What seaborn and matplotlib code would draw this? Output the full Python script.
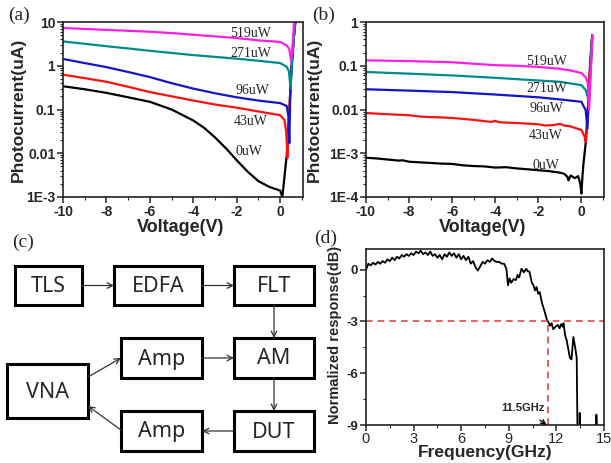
import numpy as np
import pandas as pd
import matplotlib
matplotlib.use("Agg")
import matplotlib.pyplot as plt
import seaborn as sns
from matplotlib.patches import Rectangle
from matplotlib.ticker import FixedLocator, MultipleLocator, LogLocator, NullFormatter

sns.set_style("ticks")
plt.rcParams['font.family'] = ['Liberation Sans', 'DejaVu Sans']
plt.rcParams['axes.unicode_minus'] = False
plt.rcParams['axes.linewidth'] = 1.2
plt.rcParams['axes.edgecolor'] = '#222222'

# ---------------- data ----------------
powers = ['0uW', '43uW', '96uW', '271uW', '519uW']
colors = {'0uW': '#000000', '43uW': '#ff1010', '96uW': '#1414c8',
          '271uW': '#008b8b', '519uW': '#ff1ee6'}

# panel (a)
a_v_0 = [-10, -9, -8, -7, -6, -5, -4, -3.5, -3, -2.5, -2, -1.5, -1, -0.5, 0, 0.1, 0.2, 0.3, 0.4, 0.5, 0.6, 0.7]
a_i_0 = [0.34, 0.29, 0.24, 0.19, 0.15, 0.10, 0.056, 0.038, 0.023, 0.013, 0.0069, 0.0038, 0.0023, 0.0017,
         0.0014, 0.001, 0.003, 0.009, 0.06, 0.6, 3, 12]
a_v_43 = [-10, -9, -8, -7, -6, -5, -4, -3, -2, -1, 0, 0.2, 0.28, 0.33, 0.4, 0.5, 0.6, 0.7]
a_i_43 = [0.625, 0.52, 0.43, 0.33, 0.25, 0.2, 0.16, 0.13, 0.11, 0.09, 0.074, 0.057, 0.03, 0.0078, 0.05, 0.6, 3, 12]
a_v_96 = [-10, -9, -8, -7, -6, -5, -4, -3, -2, -1, 0, 0.3, 0.38, 0.42, 0.47, 0.55, 0.65, 0.72]
a_i_96 = [1.43, 1.15, 0.93, 0.72, 0.55, 0.40, 0.30, 0.235, 0.19, 0.16, 0.14, 0.12, 0.07, 0.017, 0.3, 1.5, 6, 12]
a_v_271 = [-10, -8, -6, -4, -2, -1, 0, 0.3, 0.4, 0.48, 0.55, 0.65, 0.72]
a_i_271 = [3.6, 2.8, 2.2, 1.75, 1.45, 1.3, 1.15, 0.95, 0.75, 0.3, 1.3, 6, 12]
a_v_519 = [-10, -8, -6, -4.6, -4, -2, -1, 0, 0.3, 0.42, 0.5, 0.57, 0.65]
a_i_519 = [7.3, 6.6, 6.0, 5.4, 5.1, 4.3, 3.8, 3.5, 2.9, 2.4, 1.3, 3.0, 12]

# panel (b)
b_v_0 = [-10, -9.5, -9, -8.5, -8.3, -8, -7.5, -7, -6.5, -6, -5.5, -5, -4.5, -4, -3.5, -3, -2.5, -2, -1.5,
         -1, -0.8, -0.65, -0.6, -0.5, -0.3, -0.15, -0.05, 0, 0.05, 0.1, 0.2, 0.25, 0.3, 0.4, 0.5]
b_i_0 = [0.00079, 0.00076, 0.00072, 0.00068, 0.00069, 0.00064, 0.00062, 0.0006, 0.00058, 0.00057, 0.00053,
         0.00051, 0.0005, 0.00047, 0.00048, 0.00045, 0.00043, 0.00041, 0.00039, 0.00036, 0.00034, 0.00029,
         0.00024, 0.00031, 0.00027, 0.0003, 0.0002, 0.00012, 0.0003, 0.0006, 0.0017, 0.004, 0.01, 0.1, 0.5]
b_v_43 = [-10, -9, -8, -7.5, -7, -6.5, -6, -5, -4.2, -4, -3.8, -3, -2, -1.7, -1.3, -1, -0.8, -0.5, 0, 0.15,
          0.2, 0.25, 0.3, 0.4, 0.5]
b_i_43 = [0.0083, 0.0078, 0.0074, 0.0069, 0.0067, 0.0066, 0.0064, 0.0058, 0.0052, 0.0055, 0.0051, 0.0049,
          0.0046, 0.0043, 0.0044, 0.0047, 0.0043, 0.0041, 0.0034, 0.0024, 0.0018, 0.0035, 0.01, 0.08, 0.45]
b_v_96 = [-10, -8, -6, -4, -2, -1, 0, 0.2, 0.28, 0.35, 0.45, 0.5]
b_i_96 = [0.029, 0.027, 0.025, 0.022, 0.019, 0.017, 0.015, 0.0096, 0.0036, 0.02, 0.12, 0.45]
b_v_271 = [-10, -8, -6, -4, -2, -1, 0, 0.2, 0.3, 0.4, 0.5]
b_i_271 = [0.072, 0.066, 0.06, 0.053, 0.046, 0.043, 0.036, 0.028, 0.019, 0.05, 0.45]
b_v_519 = [-10, -8, -6, -4, -3, -2, -1, -0.5, 0, 0.2, 0.3, 0.36, 0.45, 0.52]
b_i_519 = [0.133, 0.128, 0.12, 0.103, 0.1, 0.094, 0.085, 0.078, 0.068, 0.055, 0.04, 0.01, 0.1, 0.5]

# panel (d)
freq_ghz = [0.0, 0.15, 0.3, 0.45, 0.6, 0.75, 0.9, 1.05, 1.2, 1.35, 1.5, 1.65, 1.8, 1.95, 2.1, 2.25, 2.4, 2.55,
            2.7, 2.85, 3.0, 3.15, 3.3, 3.45, 3.6, 3.75, 3.9, 4.05, 4.2, 4.35, 4.5, 4.65, 4.8, 4.95, 5.1, 5.25,
            5.4, 5.55, 5.7, 5.85, 6.0, 6.15, 6.3, 6.45, 6.6, 6.75, 6.9, 7.05, 7.2, 7.35, 7.5, 7.65, 7.8, 7.95,
            8.1, 8.25, 8.4, 8.55, 8.7, 8.85, 8.95, 9.05, 9.15, 9.3, 9.45, 9.55, 9.65, 9.8, 9.95, 10.1, 10.2,
            10.3, 10.45, 10.55, 10.65, 10.75, 10.85, 10.95, 11.1, 11.25, 11.4, 11.5, 11.6, 11.7, 11.8, 11.95,
            12.1, 12.2, 12.3, 12.4, 12.45, 12.55, 12.65, 12.75, 12.85, 12.95, 13.07, 13.2, 13.28, 13.33, 13.45,
            13.47, 13.5, 14.5, 14.52, 14.56, 15.0]
resp_db = [0.0, 0.35, 0.25, 0.4, 0.3, 0.45, 0.35, 0.5, 0.4, 0.6, 0.5, 0.7, 0.55, 0.75, 0.65, 0.85, 0.75, 0.9,
           0.8, 0.95, 0.85, 1.05, 0.95, 1.1, 0.9, 1.0, 0.85, 1.05, 0.8, 0.9, 0.7, 0.85, 0.6, 0.9, 0.75, 1.0,
           0.8, 0.95, 0.7, 0.9, 0.6, 0.8, 0.55, 0.75, 0.35, 0.5, 0.15, -0.05, 0.2, 0.45, 0.35, 0.55, 0.45, 0.65,
           0.5, 0.45, 0.45, 0.35, 0.35, 0.05, -0.9, -0.5, -0.75, -0.55, -0.6, -0.3, -0.45, 0.05, -0.15, 0.05,
           -0.1, -0.1, -0.75, -0.9, -1.2, -1.0, -1.4, -1.3, -1.95, -2.4, -2.9, -3.05, -3.25, -3.1, -3.45, -3.3,
           -3.2, -3.4, -3.15, -3.3, -3.1, -3.8, -4.1, -4.6, -5.1, -5.2, -3.9, -4.6, -5.1, -9.5, -9.5,
           -8.3, -9.5, -9.5, -8.4, -9.5, -9.5]
cutoff_ghz = 11.5
level_db = -3

blocks = ['TLS', 'EDFA', 'FLT', 'Amp', 'AM', 'VNA', 'Amp', 'DUT']


def make_df(vs, iss):
    rows = []
    for p in powers:
        for v, i in zip(vs[p], iss[p]):
            rows.append({'V': v, 'I': i, 'power': p})
    return pd.DataFrame(rows)


df_a = make_df({'0uW': a_v_0, '43uW': a_v_43, '96uW': a_v_96, '271uW': a_v_271, '519uW': a_v_519},
               {'0uW': a_i_0, '43uW': a_i_43, '96uW': a_i_96, '271uW': a_i_271, '519uW': a_i_519})
df_b = make_df({'0uW': b_v_0, '43uW': b_v_43, '96uW': b_v_96, '271uW': b_v_271, '519uW': b_v_519},
               {'0uW': b_i_0, '43uW': b_i_43, '96uW': b_i_96, '271uW': b_i_271, '519uW': b_i_519})
df_d = pd.DataFrame({'f': freq_ghz, 'r': resp_db})

# ---------------- figure ----------------
W, H = 611, 463
fig = plt.figure(figsize=(W / 100, H / 100), dpi=100)


def px_axes(l, t, r, b):
    return fig.add_axes([l / W, 1 - b / H, (r - l) / W, (b - t) / H])


serif = ['Liberation Serif', 'DejaVu Serif']


def iv_panel(ax, df, yticks, ylabels, label_pos, ylab_x):
    sns.lineplot(data=df, x='V', y='I', hue='power', hue_order=powers, palette=colors,
                 estimator=None, sort=False, legend=False, lw=1.6, ax=ax)
    ax.set_yscale('log')
    ax.set_xlim(-10, 1.05)
    ax.set_ylim(yticks[-1], yticks[0])
    ax.yaxis.set_major_locator(FixedLocator(yticks))
    ax.set_yticklabels(ylabels)
    ax.yaxis.set_minor_locator(LogLocator(base=10, subs=np.arange(2, 10)))
    ax.yaxis.set_minor_formatter(NullFormatter())
    ax.xaxis.set_major_locator(MultipleLocator(2))
    ax.xaxis.set_minor_locator(MultipleLocator(1))
    ax.set_xticks(ax.get_xticks())
    ax.set_xticklabels([f'{int(t)}' for t in ax.get_xticks()])
    ax.set_xlim(-10, 1.05)
    ax.tick_params(which='major', length=4, width=1.1, labelsize=10, pad=1.5)
    ax.tick_params(which='minor', length=2, width=0.8)
    for t in ax.get_xticklabels() + ax.get_yticklabels():
        t.set_fontweight('bold')
    ax.set_xlabel('Voltage(V)', fontsize=13, fontweight='bold', labelpad=0)
    ax.set_ylabel('Photocurrent(uA)', fontsize=12.5, fontweight='bold')
    ax.yaxis.set_label_coords(ylab_x, 0.5)
    ax.xaxis.set_label_coords(0.49, -0.125)
    for s in ax.spines.values():
        s.set_visible(True)
    for p, (x, y) in label_pos.items():
        ax.text(x, y, p, ha='center', va='center', fontsize=10, family=serif)


ax_a = px_axes(63, 22, 303, 197)
iv_panel(ax_a, df_a, [10, 1, 0.1, 0.01, 0.001], ['10', '1', '0.1', '0.01', '1E-3'],
         {'519uW': (-1.35, 5.5), '271uW': (-1.35, 1.92), '96uW': (-1.3, 0.265),
          '43uW': (-1.35, 0.052), '0uW': (-1.45, 0.0107)}, -0.155)

ax_b = px_axes(366, 22, 604, 197)
iv_panel(ax_b, df_b, [1, 0.1, 0.01, 0.001, 0.0001], ['1', '0.1', '0.01', '1E-3', '1E-4'],
         {'519uW': (-1.6, 0.126), '271uW': (-1.6, 0.030), '96uW': (-1.6, 0.0105),
          '43uW': (-1.65, 0.0026), '0uW': (-1.65, 0.00053)}, -0.185)

# panel (d)
ax_d = px_axes(366, 249, 604, 425)
sns.lineplot(data=df_d, x='f', y='r', color='black', lw=1.3, estimator=None, sort=False, ax=ax_d)
ax_d.axhline(level_db, color='#e04848', lw=1.2, ls=(0, (4, 3)))
ax_d.plot([cutoff_ghz, cutoff_ghz], [-9, level_db], color='#e04848', lw=1.2, ls=(0, (4, 3)))
ax_d.set_xlim(0, 15)
ax_d.set_ylim(-9, 1.2)
ax_d.xaxis.set_major_locator(MultipleLocator(3))
ax_d.xaxis.set_minor_locator(MultipleLocator(1.5))
ax_d.yaxis.set_major_locator(FixedLocator([-9, -6, -3, 0]))
ax_d.yaxis.set_minor_locator(FixedLocator([-7.5, -4.5, -1.5]))
ax_d.tick_params(which='major', length=4, width=1.1, pad=1.5)
ax_d.tick_params(which='minor', length=2, width=0.8)
ax_d.tick_params(axis='x', labelsize=10.5, pad=1)
ax_d.tick_params(axis='y', labelsize=9.5)
for t in ax_d.get_yticklabels():
    t.set_fontweight('bold')
ax_d.set_xlabel('Frequency(GHz)', fontsize=12.5, fontweight='bold')
ax_d.set_ylabel('Normalized response(dB)', fontsize=10.5, fontweight='bold')
ax_d.xaxis.set_label_coords(0.5, -0.112)
ax_d.yaxis.set_label_coords(-0.10, 0.51)
for s in ax_d.spines.values():
    s.set_visible(True)
ax_d.annotate(f'{cutoff_ghz}GHz', xy=(cutoff_ghz - 0.12, -9), xytext=(9.9, -8.0),
              ha='center', va='center', fontsize=8, fontweight='bold',
              arrowprops=dict(arrowstyle='->', color='black', lw=1.0, shrinkA=5, shrinkB=0))

# panel (c) diagram in pixel space
ax_c = px_axes(0, 230, 320, 463)
ax_c.set_xlim(0, 320)
ax_c.set_ylim(463, 230)
ax_c.axis('off')
boxes = {
    'TLS': (15, 266, 82, 305), 'EDFA': (114, 266, 202, 305), 'FLT': (234, 266, 314, 305),
    'Amp1': (121, 338, 202, 378), 'AM': (234, 338, 314, 378), 'VNA': (7, 364, 88, 418),
    'Amp2': (121, 411, 202, 451), 'DUT': (234, 411, 314, 451)}
for (key, (l, t, r, b)), name in zip(boxes.items(), blocks):
    ax_c.add_patch(Rectangle((l, t), r - l, b - t, fill=False, lw=2.2, ec='black'))
    ax_c.text((l + r) / 2, (t + b) / 2 + 1, name, ha='center', va='center', fontsize=15.5,
              family=['Noto Sans', 'DejaVu Sans'])
arrows = [((82, 285.5), (114, 285.5)), ((202, 285.5), (234, 285.5)), ((274, 305), (274, 338)),
          ((202, 358), (234, 358)), ((274, 378), (274, 411)), ((234, 431), (202, 431)),
          ((88, 377), (121, 358)), ((121, 430), (88, 406))]
for s, e in arrows:
    ax_c.annotate('', xy=e, xytext=s,
                  arrowprops=dict(arrowstyle='->', color='#333333', lw=0.9, shrinkA=0, shrinkB=0))

# panel labels
for txt, x, y in [('(a)', 19, 15), ('(b)', 324, 15), ('(c)', 23, 242), ('(d)', 326, 238)]:
    fig.text(x / W, 1 - y / H, txt, ha='center', va='center', fontsize=14, family=serif)

fig.savefig('out.png', dpi=100)
